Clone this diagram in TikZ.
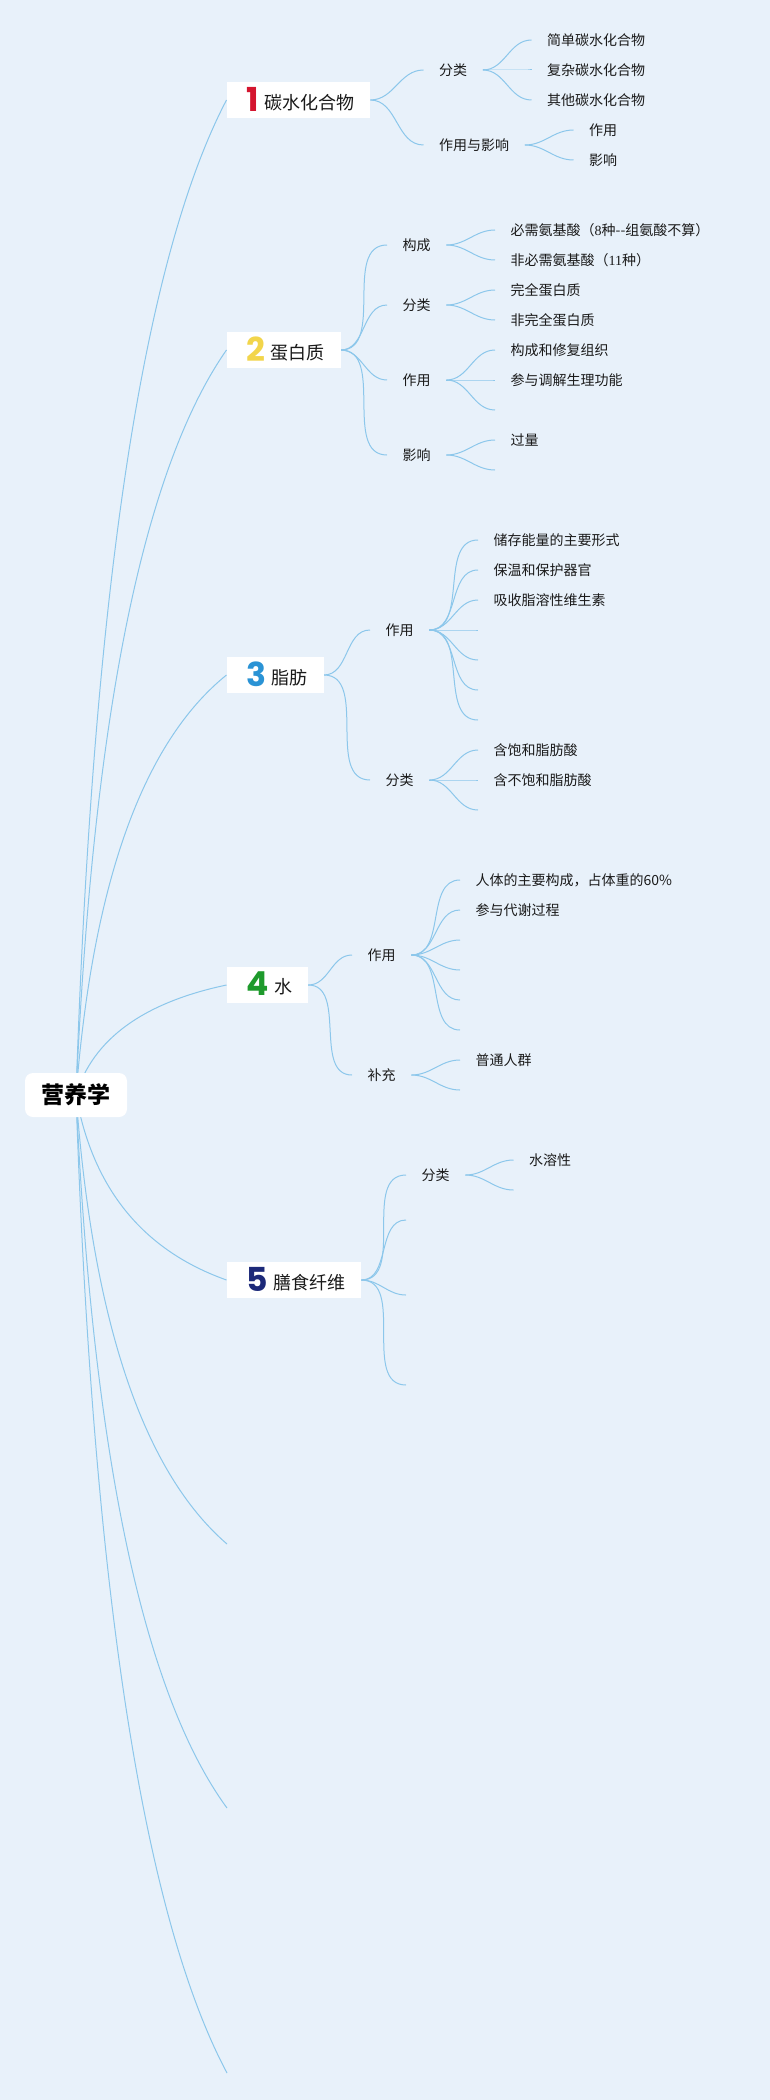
\documentclass[tikz,border=0pt]{standalone}
\usepackage{fontspec}
\setmainfont{Noto Sans CJK SC}
\newfontfamily\numfont{Poppins}
\newfontfamily\figfont{Liberation Serif}
\pgfdeclarelayer{back}
\pgfsetlayers{back,main}
\definecolor{paper}{HTML}{E8F1FA}
\definecolor{wire}{HTML}{8CC7EB}
\definecolor{ink}{HTML}{1A1A1A}
\definecolor{numred}{HTML}{D4152F}
\definecolor{numyellow}{HTML}{F2D54B}
\definecolor{numblue}{HTML}{2A93D5}
\definecolor{numgreen}{HTML}{1E9A2C}
\definecolor{numnavy}{HTML}{1C2979}
\newcommand\topicnum[2]{\hspace*{4pt}\rule[-4pt]{0pt}{4pt}\raisebox{-2pt}{\numfont\bfseries\fontsize{33}{33}\selectfont\color{#1}#2}\hspace{5pt}}

\begin{document}
\begin{tikzpicture}[x=1pt,y=-1pt,
  rootbox/.style={fill=white,rounded corners=8pt,minimum width=102pt,minimum height=44pt,inner sep=0pt,font=\fontsize{23}{23}\selectfont\bfseries,text=black},
  topic/.style={fill=white,anchor=west,minimum height=36pt,inner xsep=16pt,inner ysep=0pt,font=\fontsize{18}{18}\selectfont,text=ink},
  sub/.style={anchor=west,inner xsep=15.5pt,inner ysep=2pt,font=\fontsize{14}{14}\selectfont,text=ink},
  leaf/.style={sub},
  link/.style={draw=wire,line width=1pt,out=0,in=180},
  trunk/.style={draw=wire,line width=1pt}]

  \node[rootbox] (root) at (76,1095) {营养学};

  \node[topic] (carb)  at (226.5,100)  {\topicnum{numred}{1}碳水化合物};
  \node[topic] (prot)  at (226.5,350)  {\topicnum{numyellow}{2}蛋白质};
  \node[topic] (fat)   at (226.5,675)  {\topicnum{numblue}{3}脂肪};
  \node[topic] (water) at (226.5,985)  {\topicnum{numgreen}{4}水};
  \node[topic] (fibre) at (226.5,1280) {\topicnum{numnavy}{5}膳食纤维};
  \coordinate (tail1) at (227,1544);
  \coordinate (tail2) at (227,1808);
  \coordinate (tail3) at (227,2073);

  \node[sub] (cfl)  at (423.5,70)  {分类};
  \node[sub] (ceff) at (423.5,145) {作用与影响};
  \node[leaf] (cs1) at (531.5,40)  {简单碳水化合物};
  \node[leaf] (cs2) at (531.5,70)  {复杂碳水化合物};
  \node[leaf] (cs3) at (531.5,100) {其他碳水化合物};
  \node[leaf] (ce1) at (573.5,130) {作用};
  \node[leaf] (ce2) at (573.5,160) {影响};

  \node[sub] (pbuild) at (387,245) {构成};
  \node[sub] (pcls)   at (387,305) {分类};
  \node[sub] (puse)   at (387,380) {作用};
  \node[sub] (pimp)   at (387,455) {影响};
  \node[leaf] (pb1) at (495,230) {必需氨基酸（{\figfont 8}种{-}{-}组氨酸不算）};
  \node[leaf] (pb2) at (495,260) {非必需氨基酸（{\figfont 11}种）};
  \node[leaf] (pc1) at (495,290) {完全蛋白质};
  \node[leaf] (pc2) at (495,320) {非完全蛋白质};
  \node[leaf] (pu1) at (495,350) {构成和修复组织};
  \node[leaf] (pu2) at (495,380) {参与调解生理功能};
  \coordinate (pu3) at (495,410);
  \node[leaf] (pi1) at (495,440) {过量};
  \coordinate (pi2) at (495,470);

  \node[sub] (fuse) at (370,630) {作用};
  \node[sub] (fcls) at (370,780) {分类};
  \node[leaf] (fu1) at (478,540) {储存能量的主要形式};
  \node[leaf] (fu2) at (478,570) {保温和保护器官};
  \node[leaf] (fu3) at (478,600) {吸收脂溶性维生素};
  \coordinate (fu4) at (478,630);
  \coordinate (fu5) at (478,660);
  \coordinate (fu6) at (478,690);
  \coordinate (fu7) at (478,720);
  \node[leaf] (fc1) at (478,750) {含饱和脂肪酸};
  \node[leaf] (fc2) at (478,780) {含不饱和脂肪酸};
  \coordinate (fc3) at (478,810);

  \node[sub] (wuse) at (352,955)  {作用};
  \node[sub] (wadd) at (352,1075) {补充};
  \node[leaf] (wu1) at (460,880) {人体的主要构成，占体重的60\%};
  \node[leaf] (wu2) at (460,910) {参与代谢过程};
  \coordinate (wu3) at (460,940);
  \coordinate (wu4) at (460,970);
  \coordinate (wu5) at (460,1000);
  \coordinate (wu6) at (460,1030);
  \node[leaf] (wa1) at (460,1060) {普通人群};
  \coordinate (wa2) at (460,1090);

  \node[sub] (bcls) at (406,1175) {分类};
  \coordinate (bx1) at (406,1220);
  \coordinate (bx2) at (406,1295);
  \coordinate (bx3) at (406,1385);
  \node[leaf] (bc1) at (513.5,1160) {水溶性};
  \coordinate (bc2) at (513.5,1190);

  \begin{pgfonlayer}{back}
    \fill[paper] (0,0) rectangle (770,2100);
    \foreach \t/\d in {carb/995,prot/745,fat/420,water/110,fibre/-185}
      \draw[trunk] (root.center) .. controls +(16.7,-0.507*\d) and +(-83.3,0.16*\d) .. (\t.west);
    \foreach \t/\d in {tail1/-449,tail2/-713,tail3/-978}
      \draw[trunk] (root.center) .. controls +(16.7,-0.507*\d) and +(-83.3,0.16*\d) .. (\t);
    \foreach \a/\b in {carb/cfl,carb/ceff,cfl/cs1,cfl/cs2,cfl/cs3,ceff/ce1,ceff/ce2,
        prot/pbuild,prot/pcls,prot/puse,prot/pimp,pbuild/pb1,pbuild/pb2,pcls/pc1,pcls/pc2,
        puse/pu1,puse/pu2,puse/pu3,pimp/pi1,pimp/pi2,
        fat/fuse,fat/fcls,fuse/fu1,fuse/fu2,fuse/fu3,fuse/fu4,fuse/fu5,fuse/fu6,fuse/fu7,
        fcls/fc1,fcls/fc2,fcls/fc3,
        water/wuse,water/wadd,wuse/wu1,wuse/wu2,wuse/wu3,wuse/wu4,wuse/wu5,wuse/wu6,
        wadd/wa1,wadd/wa2,
        fibre/bcls,fibre/bx1,fibre/bx2,fibre/bx3,bcls/bc1,bcls/bc2}
      \draw[link] (\a) to (\b);
  \end{pgfonlayer}
\end{tikzpicture}
\end{document}
